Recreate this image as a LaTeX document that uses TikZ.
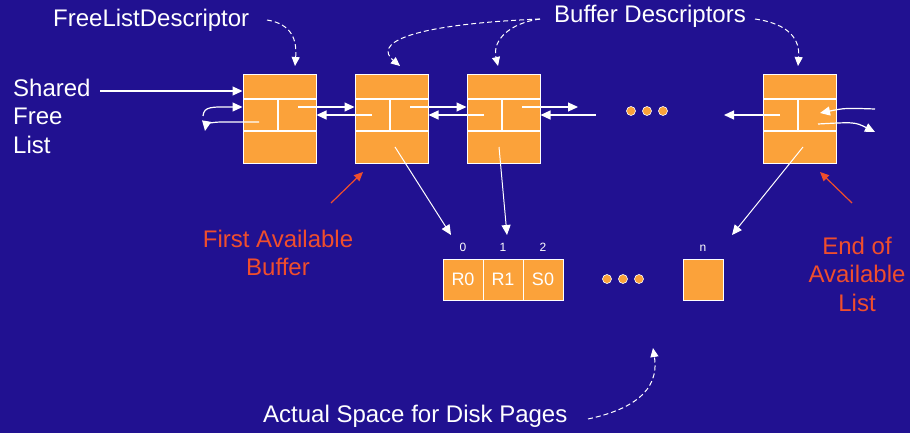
\documentclass[tikz,border=0pt]{standalone}
\usepackage{fontspec}
\setmainfont{Liberation Sans}
\usetikzlibrary{arrows.meta,positioning}
\definecolor{slideBlue}{RGB}{33,17,145}
\definecolor{boxOrange}{RGB}{251,162,58}
\definecolor{noteRed}{RGB}{240,78,44}

\begin{document}
\begin{tikzpicture}
[x=1pt,y=-1pt,
  whiteArrow/.style={-{Triangle[length=10pt,width=9pt]},line width=1.2pt,color=white},%
  thinArrow/.style={-{Triangle[length=10pt,width=9pt]},line width=1pt,color=white},%
  dashArrow/.style={-{Triangle[length=9pt,width=8pt]},line width=1pt,color=white,dash pattern=on 5pt off 3pt},%
  redArrow/.style={-{Triangle[length=9pt,width=8pt]},line width=1.2pt,color=noteRed},%
  descDecorate/.style={shape=rectangle,fill=boxOrange,draw=white,line width=1pt,minimum width=73pt,minimum height=88pt,inner sep=0pt},%
  pageDecorate/.style={shape=rectangle,fill=boxOrange,draw=white,line width=1pt,minimum width=40pt,minimum height=41pt,inner sep=0pt,font=\fontsize{18}{18}\selectfont,text=white},%
  cellLine/.style={line width=1.2pt,color=white},%
  bigText/.style={inner sep=0pt,font=\fontsize{24}{28.5}\selectfont,text=white},%
  noteText/.style={inner sep=0pt,font=\fontsize{24}{28.5}\selectfont,text=noteRed,align=center},%
  indexText/.style={inner sep=0pt,font=\fontsize{12}{12}\selectfont,text=white},%
  dotDecorate/.style={fill=boxOrange,draw=white,line width=0.6pt}]
%% background
\fill[slideBlue] (0,0) rectangle (910,433);
\useasboundingbox (0,0) rectangle (910,433);
%% buffer descriptors
\foreach \nodename/\x in {fld/243, bd1/355, bd2/467, bdn/763}
{
  \node (\nodename) at (\x+36.5,119) [descDecorate] {};
  \draw[cellLine] (\x,99) -- (\x+73,99) (\x,131) -- (\x+73,131) (\x+35,99) -- (\x+35,131);
  \coordinate (\nodename-next) at (\x+55,107);
  \coordinate (\nodename-prev) at (\x+17,115);
}
%% links between descriptors
\foreach \startnode/\endnode in {fld/bd1, bd1/bd2}
{
  \draw[whiteArrow] (\startnode-next) -- (\startnode-next -| \endnode.west);
  \draw[whiteArrow] (\endnode-prev) -- (\endnode-prev -| \startnode.east);
}
\coordinate (gapNext) at (578,107);
\coordinate (gapPrev) at (596,115);
\coordinate (gapLast) at (724,115);
\draw[whiteArrow] (bd2-next) -- (gapNext);
\draw[whiteArrow] (gapPrev) -- (gapPrev -| bd2.east);
\draw[whiteArrow] (bdn-prev) -- (gapLast);
%% shared free list
\node (shared) at (13,78.5) [bigText,anchor=north west,align=left] {Shared\\Free\\List};
\coordinate (sharedEnd) at (100,91);
\coordinate (freeIn) at (203,116);
\coordinate (fldOut) at (259,122);
\coordinate (freeOut) at (205,131);
\draw[whiteArrow] (sharedEnd) -- (sharedEnd -| fld.west);
\draw[whiteArrow] (freeIn) .. controls (204,106) and (212,107) .. (fld-next -| fld.west);
\draw[whiteArrow] (fldOut) -- (222,122) .. controls (210,122) and (206,125) .. (freeOut);
%% tail of the list
\coordinate (tailIn) at (875,109);
\coordinate (bdnIn) at (820,113);
\coordinate (bdnOut) at (818,124);
\coordinate (tailOut) at (875,132);
\draw[whiteArrow] (tailIn) .. controls (845,108) .. (bdnIn);
\draw[whiteArrow] (bdnOut) .. controls (855,122) .. (tailOut);
%% dots
\foreach \x in {631,647,663} \filldraw[dotDecorate] (\x,111) circle (4.5pt);
\foreach \x in {607,623,639} \filldraw[dotDecorate] (\x,279) circle (4.5pt);
%% disk pages
\foreach \nodename/\x/\lbl/\idx in {pg0/463/R0/0, pg1/503/R1/1, pg2/543/S0/2, pgn/703//n}
{
  \node (\nodename) at (\x,279.5) [pageDecorate] {\lbl};
  \node (\nodename-idx) [indexText,above=7pt of \nodename] {\idx};
}
\coordinate (bd1-down) at (395,147);
\coordinate (bd2-down) at (499,147);
\coordinate (bdn-down) at (803,147);
\coordinate (pg0-tip) at (451,235);
\coordinate (pg1-tip) at (507,235);
\coordinate (pgn-tip) at (732,235);
\foreach \startnode/\endnode in {bd1-down/pg0-tip, bd2-down/pg1-tip, bdn-down/pgn-tip}
{
  \draw[thinArrow] (\startnode) -- (\endnode);
}
%% red notes
\node (firstNote) at (278,229.5) [noteText,anchor=north] {First Available\\Buffer};
\node (endNote) at (857,236.5) [noteText,anchor=north] {End of\\Available\\List};
\coordinate (firstTail) at (331,203);
\coordinate (firstHead) at (363,172);
\coordinate (endTail) at (852,203);
\coordinate (endHead) at (820,172);
\draw[redArrow] (firstTail) -- (firstHead);
\draw[redArrow] (endTail) -- (endHead);
%% labels with dashed pointers
\node (fldLabel) at (53,27) [bigText,anchor=base west] {FreeListDescriptor};
\node (bdLabel) at (554,23) [bigText,anchor=base west] {Buffer Descriptors};
\node (diskLabel) at (263,422) [bigText,anchor=base west] {Actual Space for Disk Pages};
\coordinate (fldDash) at (267,20);
\coordinate (bdDashL) at (540,19);
\coordinate (bdDashR) at (755,19);
\coordinate (diskDash) at (588,419);
\draw[dashArrow] (fldDash) .. controls (292,24) and (297,40) .. (295,66);
\draw[dashArrow] (bdDashL) .. controls (400,25) and (375,45) .. (400,66);
\draw[dashArrow] (bdDashL) .. controls (510,23) and (492,40) .. (498,66);
\draw[dashArrow] (bdDashR) .. controls (790,24) and (800,40) .. (798,66);
\draw[dashArrow] (diskDash) .. controls (630,410) and (660,392) .. (653,348);
\end{tikzpicture}
\end{document}
